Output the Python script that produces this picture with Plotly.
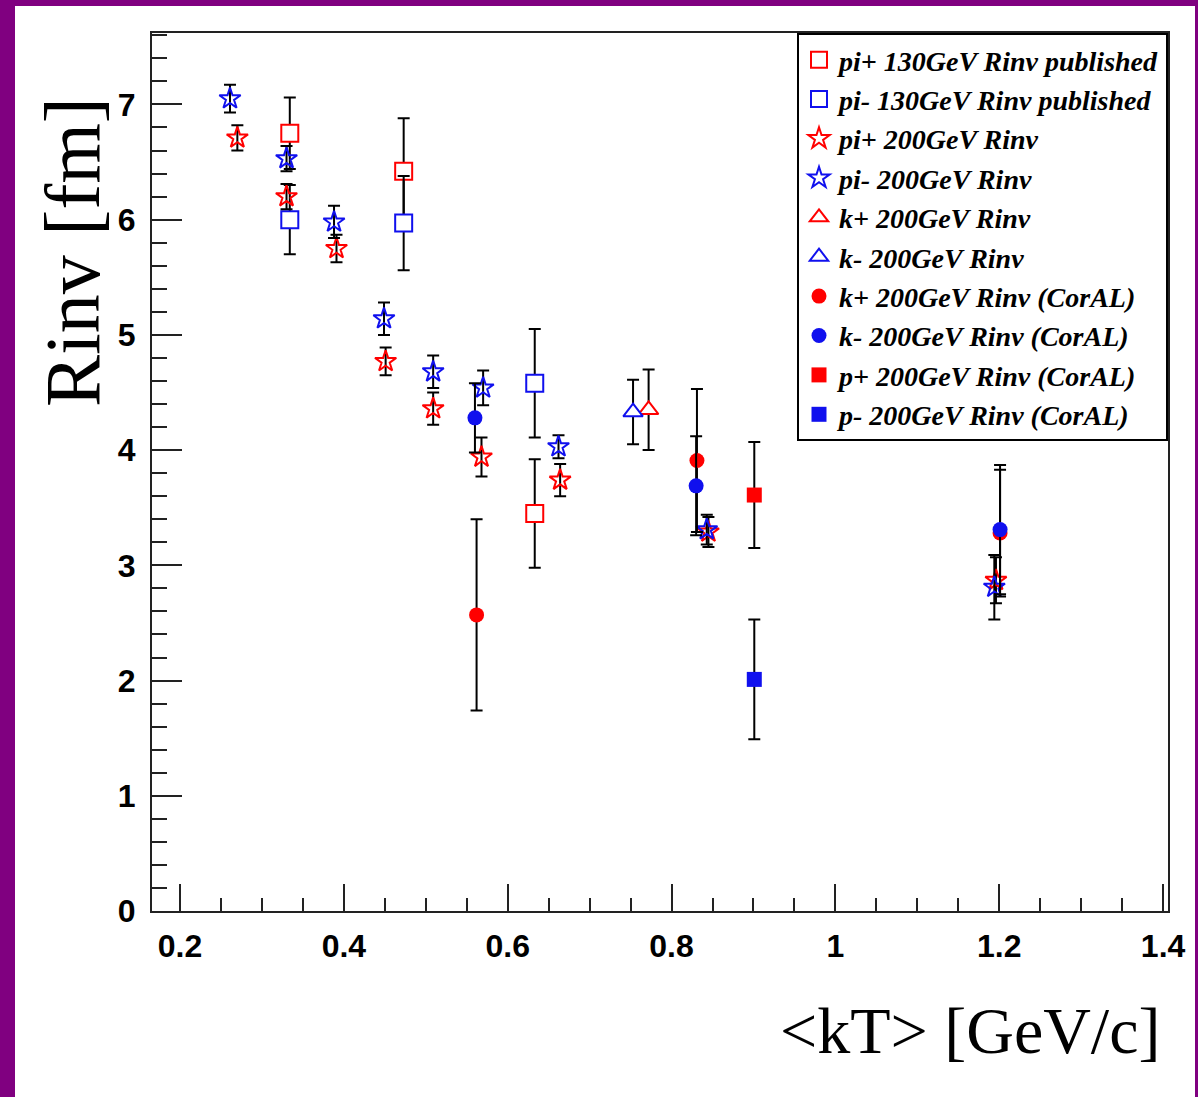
import plotly.graph_objects as go

# <kT> bins and invariant radii (fm) with symmetric errors
pip130_kt = [0.334, 0.473, 0.633]
pip130_r = [6.75, 6.42, 3.45]
pip130_err = [0.31, 0.46, 0.47]

pim130_kt = [0.334, 0.473, 0.633]
pim130_r = [6.00, 5.97, 4.58]
pim130_err = [0.30, 0.41, 0.47]

pip200_kt = [0.270, 0.330, 0.391, 0.451, 0.509, 0.568, 0.664, 0.845, 1.196]
pip200_r = [6.71, 6.20, 5.75, 4.77, 4.36, 3.94, 3.74, 3.29, 2.87]
pip200_err = [0.11, 0.11, 0.12, 0.12, 0.14, 0.17, 0.14, 0.13, 0.20]

pim200_kt = [0.261, 0.330, 0.388, 0.449, 0.509, 0.570, 0.662, 0.843, 1.194]
pim200_r = [7.05, 6.53, 5.98, 5.14, 4.68, 4.54, 4.03, 3.31, 2.81]
pim200_err = [0.12, 0.11, 0.14, 0.14, 0.14, 0.15, 0.10, 0.13, 0.28]

kp200_kt = [0.772]
kp200_r = [4.35]
kp200_err = [0.35]

km200_kt = [0.753]
km200_r = [4.33]
km200_err = [0.28]

kp_coral_kt = [0.562, 0.831, 1.201]
kp_coral_r = [2.57, 3.91, 3.28]
kp_coral_err = [0.83, 0.62, 0.55]

km_coral_kt = [0.560, 0.830, 1.201]
km_coral_r = [4.28, 3.69, 3.31]
km_coral_err = [0.30, 0.43, 0.56]

pp_coral_kt = [0.901]
pp_coral_r = [3.61]
pp_coral_err = [0.46]

pm_coral_kt = [0.901]
pm_coral_r = [2.01]
pm_coral_err = [0.52]

RED = "#ff0000"
BLUE = "#1010ee"

series = [
    ("pi+ 130GeV Rinv published", pip130_kt, pip130_r, pip130_err,
     dict(symbol="square", size=17, color="white", line=dict(color=RED, width=2))),
    ("pi- 130GeV Rinv published", pim130_kt, pim130_r, pim130_err,
     dict(symbol="square", size=17, color="white", line=dict(color=BLUE, width=2))),
    ("pi+ 200GeV Rinv", pip200_kt, pip200_r, pip200_err,
     dict(symbol="star-open", size=16, color=RED, line=dict(color=RED, width=2))),
    ("pi- 200GeV Rinv", pim200_kt, pim200_r, pim200_err,
     dict(symbol="star-open", size=16, color=BLUE, line=dict(color=BLUE, width=2))),
    ("k+ 200GeV Rinv", kp200_kt, kp200_r, kp200_err,
     dict(symbol="triangle-up", size=17, color="white", line=dict(color=RED, width=2))),
    ("k- 200GeV Rinv", km200_kt, km200_r, km200_err,
     dict(symbol="triangle-up", size=17, color="white", line=dict(color=BLUE, width=2))),
    ("k+ 200GeV Rinv (CorAL)", kp_coral_kt, kp_coral_r, kp_coral_err,
     dict(symbol="circle", size=15, color=RED, line=dict(width=0))),
    ("k- 200GeV Rinv (CorAL)", km_coral_kt, km_coral_r, km_coral_err,
     dict(symbol="circle", size=15, color=BLUE, line=dict(width=0))),
    ("p+ 200GeV Rinv (CorAL)", pp_coral_kt, pp_coral_r, pp_coral_err,
     dict(symbol="square", size=15, color=RED, line=dict(width=0))),
    ("p- 200GeV Rinv (CorAL)", pm_coral_kt, pm_coral_r, pm_coral_err,
     dict(symbol="square", size=15, color=BLUE, line=dict(width=0))),
]

fig = go.Figure()
for i, (name, kt, r, err, marker) in enumerate(series):
    fig.add_trace(go.Scatter(
        x=kt, y=r, mode="markers", name="<b><i>" + name + "</i></b>",
        legendgroup="g%d" % i,
        marker=marker,
        error_y=dict(type="data", array=err, visible=True,
                     color="black", thickness=2, width=6),
    ))

W, H = 1198, 1097
ML, MR, MT, MB = 152, 30, 33, 186
pw, ph = W - ML - MR, H - MT - MB


def px_x(v):
    return (v - ML) / pw


def px_y(v):
    return (H - MB - v) / ph


tick_font = dict(family="Liberation Sans, Arial", size=32, color="black",
                 weight="bold")

fig.update_layout(
    width=W, height=H,
    margin=dict(l=ML, r=MR, t=MT, b=MB, pad=0),
    paper_bgcolor="#800080",
    plot_bgcolor="white",
    showlegend=True,
    legend=dict(
        x=1, y=1, xanchor="right", yanchor="top",
        bgcolor="white", bordercolor="black", borderwidth=2,
        font=dict(family="Liberation Serif, Times New Roman, serif", size=28, color="black"),
        tracegroupgap=0, itemsizing="trace",
    ),
    xaxis=dict(
        range=[0.1658, 1.406], tick0=0.2, dtick=0.2,
        ticks="inside", ticklen=27, tickwidth=1.5, tickcolor="#222",
        minor=dict(dtick=0.05, tick0=0.2, ticks="inside", ticklen=13,
                   tickwidth=1.5, tickcolor="#222", showgrid=False),
        showline=True, linecolor="#222", linewidth=2, mirror=True,
        showgrid=False, zeroline=False, tickfont=tick_font,
        ticklabelstandoff=6,
    ),
    yaxis=dict(
        range=[0, 7.62], tick0=0, dtick=1,
        ticks="inside", ticklen=30, tickwidth=1.5, tickcolor="#222",
        minor=dict(dtick=0.2, tick0=0, ticks="inside", ticklen=15,
                   tickwidth=1.5, tickcolor="#222", showgrid=False),
        showline=True, linecolor="#222", linewidth=2, mirror=True,
        showgrid=False, zeroline=False, tickfont=tick_font,
        ticklabelstandoff=8,
    ),
    shapes=[
        dict(type="rect", xref="paper", yref="paper",
             x0=px_x(15), x1=px_x(1195), y0=px_y(1097), y1=px_y(6),
             fillcolor="white", line=dict(width=0), layer="below"),
    ],
    annotations=[
        dict(text="Rinv [fm]", xref="paper", yref="paper",
             x=px_x(72), y=px_y(252), xanchor="center", yanchor="middle",
             textangle=-90, showarrow=False,
             font=dict(family="Liberation Serif, Times New Roman, serif",
                       size=78, color="black")),
        dict(text="&lt;kT&gt; [GeV/c]", xref="paper", yref="paper",
             x=px_x(1162), y=px_y(1030), xanchor="right", yanchor="middle",
             showarrow=False,
             font=dict(family="Liberation Serif, Times New Roman, serif",
                       size=66, color="black")),
    ],
)

fig.write_html("out.html")
